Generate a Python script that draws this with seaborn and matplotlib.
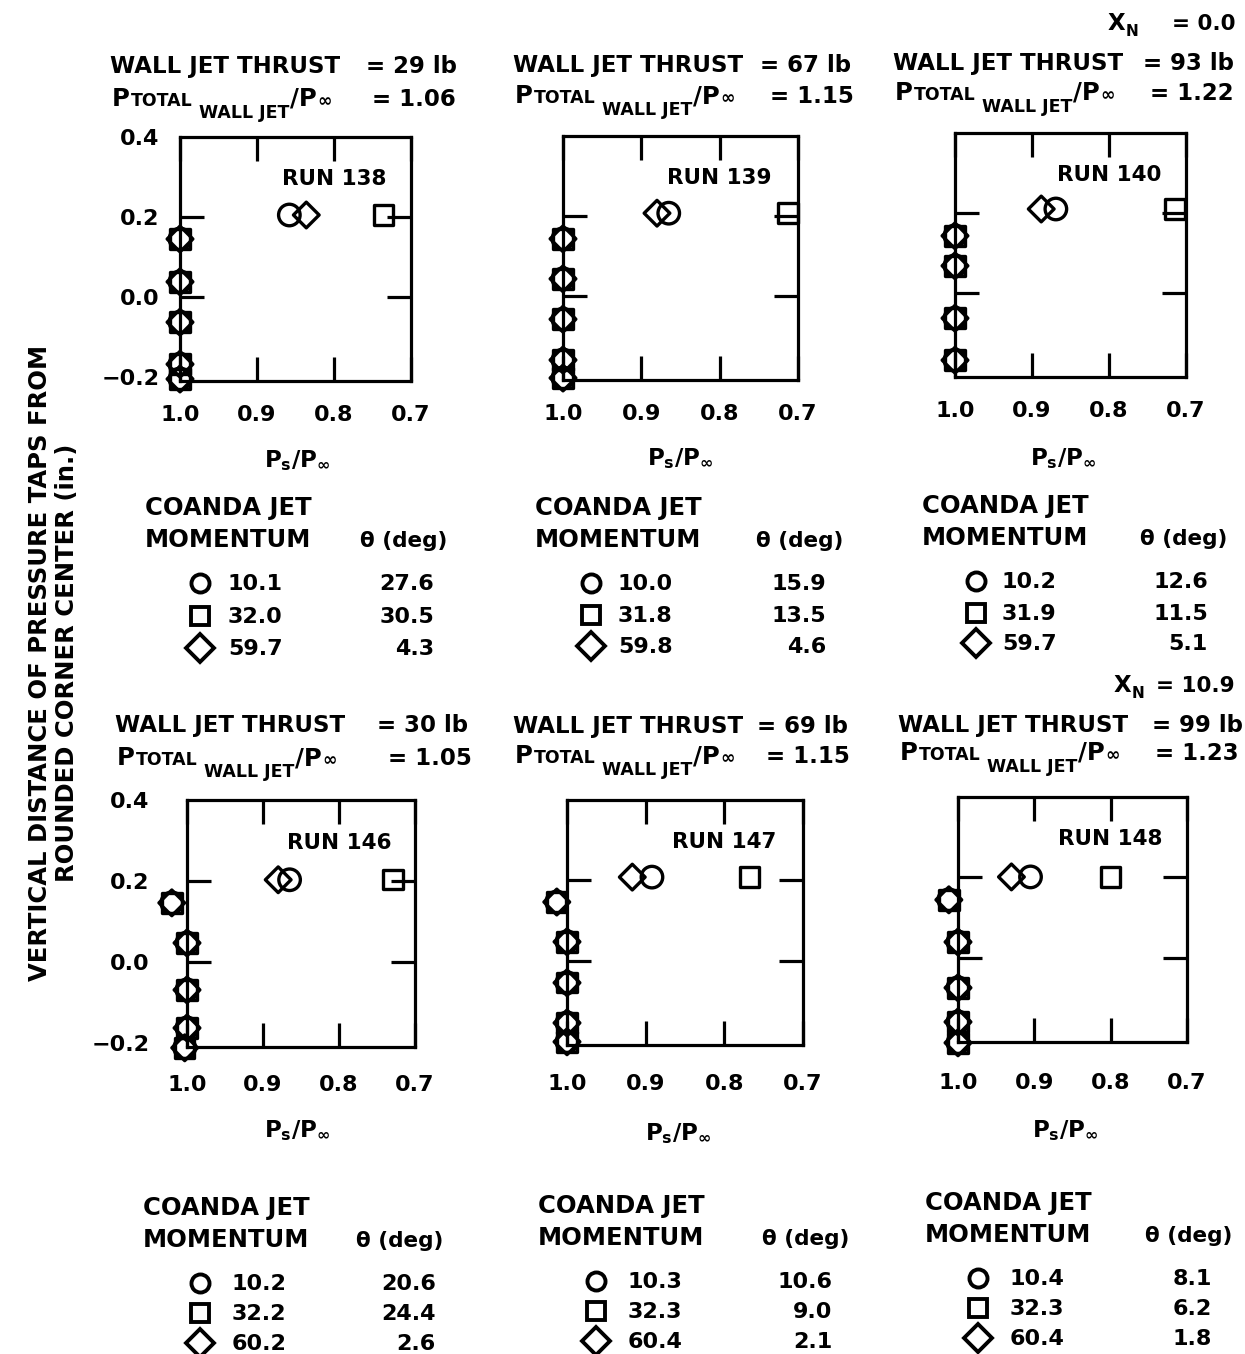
import numpy as np
import pandas as pd
import matplotlib
matplotlib.use("Agg")
import matplotlib.pyplot as plt
import matplotlib.lines as mlines
import seaborn as sns

W, H = 1245, 1354

# ---------------------------------------------------------------- data
run_ids = [138, 139, 140, 146, 147, 148]
wall_jet_thrust = [29, 67, 93, 30, 69, 99]
total_pressure_ratio = [1.06, 1.15, 1.22, 1.05, 1.15, 1.23]
nozzle_station = [0.0, 10.9]

coanda_momentum = [
    [10.1, 32.0, 59.7],
    [10.0, 31.8, 59.8],
    [10.2, 31.9, 59.7],
    [10.2, 32.2, 60.2],
    [10.3, 32.3, 60.4],
    [10.4, 32.3, 60.4],
]
theta_deg = [
    [27.6, 30.5, 4.3],
    [15.9, 13.5, 4.6],
    [12.6, 11.5, 5.1],
    [20.6, 24.4, 2.6],
    [10.6, 9.0, 2.1],
    [8.1, 6.2, 1.8],
]

# vertical distance of each pressure tap (in.), top tap first
tap_height = [
    [0.205, 0.145, 0.038, -0.063, -0.168, -0.205],
    [0.207, 0.143, 0.043, -0.058, -0.160, -0.205],
    [0.210, 0.143, 0.068, -0.063, -0.168],
    [0.203, 0.146, 0.047, -0.069, -0.163, -0.212],
    [0.208, 0.146, 0.047, -0.055, -0.155, -0.202],
    [0.201, 0.144, 0.039, -0.075, -0.160, -0.212],
]
# Ps/Pinf at each tap for the low, mid and high Coanda momentum settings
ps_low = [
    [0.858, 1.0, 1.0, 1.0, 1.0, 1.0],
    [0.865, 1.0, 1.0, 1.0, 1.0, 1.0],
    [0.869, 1.0, 1.0, 1.0, 1.0],
    [0.865, 1.020, 1.0, 1.0, 1.0, 1.003],
    [0.892, 1.013, 1.0, 1.0, 1.0, 1.0],
    [0.905, 1.012, 1.0, 1.0, 1.0, 1.0],
]
ps_mid = [
    [0.736, 1.0, 1.0, 1.0, 1.0, 1.0],
    [0.713, 1.0, 1.0, 1.0, 1.0, 1.0],
    [0.714, 1.0, 1.0, 1.0, 1.0],
    [0.729, 1.020, 1.0, 1.0, 1.0, 1.003],
    [0.768, 1.013, 1.0, 1.0, 1.0, 1.0],
    [0.800, 1.012, 1.0, 1.0, 1.0, 1.0],
]
ps_high = [
    [0.836, 1.0, 1.0, 1.0, 1.0, 1.0],
    [0.880, 1.0, 1.0, 1.0, 1.0, 1.0],
    [0.888, 1.0, 1.0, 1.0, 1.0],
    [0.880, 1.020, 1.0, 1.0, 1.0, 1.003],
    [0.917, 1.013, 1.0, 1.0, 1.0, 1.0],
    [0.930, 1.012, 1.0, 1.0, 1.0, 1.0],
]

x_ticks = [1.0, 0.9, 0.8, 0.7]
y_ticks = [0.4, 0.2, 0.0, -0.2]

# ---------------------------------------------------------------- layout (pixels)
axes_px = [  # left, top, right, bottom
    (180, 137, 411, 381),
    (563, 136, 798, 380),
    (955, 133, 1186, 377),
    (187, 800, 415, 1047),
    (567, 800, 803, 1045),
    (958, 797, 1187, 1042),
]
xlabel_px = [(297, 448), (680, 446), (1063, 446), (297, 1118), (678, 1121), (1065, 1118)]
xtick_pad = [17, 17, 17, 20, 21, 22]
ytick_pad = [15, 15, 15, 27, 27, 27]

# header: (left x, baseline line1, eq x line1, baseline line2, eq x line2)
header_px = [
    (110, 73, 366, 106, 372),
    (513, 72, 760, 103, 770),
    (893, 70, 1143, 100, 1150),
    (115, 732, 377, 765, 388),
    (513, 733, 757, 763, 766),
    (898, 732, 1152, 760, 1155),
]
# X_N label: (x, baseline, eq x)
station_px = [(1108, 30, 1172), (1114, 692, 1156)]

# legend blocks: (left, title baseline, theta-head x, row baselines, marker x, value x, theta right)
legend_px = [
    (145, 515, 360, (590, 623, 655), 200, 228, 434),
    (535, 515, 756, (590, 622, 653), 591, 618, 826),
    (922, 513, 1140, (588, 620, 650), 976, 1002, 1208),
    (143, 1215, 356, (1290, 1320, 1350), 200, 232, 436),
    (538, 1213, 762, (1288, 1318, 1348), 596, 628, 832),
    (925, 1210, 1145, (1285, 1315, 1345), 978, 1010, 1212),
]

# ---------------------------------------------------------------- style
sns.set_style("white")
plt.rcParams["font.family"] = ["DejaVu Sans"]
plt.rcParams["font.weight"] = "bold"
plt.rcParams["mathtext.fontset"] = "dejavusans"
plt.rcParams["mathtext.default"] = "bf"
for key in ["text.color", "axes.labelcolor", "xtick.color", "ytick.color", "axes.edgecolor"]:
    plt.rcParams[key] = "black"

fig = plt.figure(figsize=(W / 100, H / 100), dpi=100)
fig.patch.set_facecolor("white")
renderer = fig.canvas.get_renderer()

LW = 2.3


def fx(px):
    return px / W


def fy(py):
    return 1 - py / H


def chain(x, y, pieces):
    """Write pieces (text, size, dy_px, gap_px) one after another on a baseline."""
    for txt, size, dy, gap in pieces:
        t = fig.text(fx(x), fy(y + dy), txt, fontsize=size, fontweight="bold",
                     ha="left", va="baseline", color="black")
        x += t.get_window_extent(renderer=renderer).width + gap
    return x


marker_specs = [  # series, marker, scatter size
    ("low", "o", 15.5 ** 2),
    ("mid", "s", 14 ** 2),
    ("high", (4, 0, 0), 18.5 ** 2),
]
series_values = {"low": ps_low, "mid": ps_mid, "high": ps_high}

for i, (l, t, r, b) in enumerate(axes_px):
    ax = fig.add_axes([fx(l), fy(b), (r - l) / W, (b - t) / H])
    ax.set_facecolor("white")

    for key, mk, s in marker_specs:
        sns.scatterplot(x=series_values[key][i], y=tap_height[i], ax=ax,
                        marker=mk, s=s, facecolor="none", edgecolor="black",
                        linewidth=2.4, clip_on=False, zorder=4, legend=False)

    ax.set_xlim(1.0, 0.7)
    ax.set_ylim(-0.21, 0.40)
    ax.set_xticks(x_ticks)
    ax.set_xticklabels([f"{v:.1f}" for v in x_ticks])
    ax.set_yticks(y_ticks)
    ax.set_yticklabels([f"{v:.1f}".replace("-", "\u2212") for v in y_ticks])
    ax.tick_params(axis="both", direction="in", length=17, width=LW,
                   bottom=True, left=True, top=True, right=True,
                   labelsize=16, colors="black")
    ax.tick_params(axis="x", pad=xtick_pad[i])
    ax.tick_params(axis="y", pad=ytick_pad[i], labelleft=(i % 3 == 0))
    for loc, tk in zip(ax.yaxis.get_majorticklocs(), ax.yaxis.get_major_ticks()):
        if loc > 0.3 or loc < -0.1:
            tk.tick1line.set_visible(False)
            tk.tick2line.set_visible(False)
    for sp in ax.spines.values():
        sp.set_linewidth(LW)
        sp.set_color("black")

    ax.set_ylabel("")
    ax.set_xlabel(r"$P_s/P_\infty$", fontsize=16.5)
    cx, ctop = xlabel_px[i]
    ax.xaxis.set_label_coords((cx - l) / (r - l), -(ctop - b) / (b - t))

    ax.text(0.80, 0.295, f"RUN {run_ids[i]}", ha="center", va="center",
            fontsize=15.5, fontweight="bold")

    # header above each panel
    x0, b1, e1, b2, e2 = header_px[i]
    fig.text(fx(x0), fy(b1), "WALL JET THRUST", fontsize=16.5, fontweight="bold",
             ha="left", va="baseline")
    fig.text(fx(e1), fy(b1), f"= {wall_jet_thrust[i]} lb", fontsize=16.5,
             fontweight="bold", ha="left", va="baseline")
    chain(x0 + 2, b2, [("P", 17.5, 0, 1), ("TOTAL", 12.5, 0, 6),
                       ("WALL JET", 12.5, 12, 1), ("/P", 17.5, 0, 1), ("\u221e", 12.5, 0, 0)])
    fig.text(fx(e2), fy(b2), f"= {total_pressure_ratio[i]:.2f}", fontsize=16.5,
             fontweight="bold", ha="left", va="baseline")

    # momentum / flap-angle table below each panel
    lx, tb, thx, rows, mx, vx, thr = legend_px[i]
    fig.text(fx(lx), fy(tb), "COANDA JET", fontsize=17.5, fontweight="bold",
             ha="left", va="baseline")
    fig.text(fx(lx), fy(tb + 32), "MOMENTUM", fontsize=17.5, fontweight="bold",
             ha="left", va="baseline")
    fig.text(fx(thx), fy(tb + 32), "\u03b8 (deg)", fontsize=15.5, fontweight="bold",
             ha="left", va="baseline")
    leg_markers = [("o", 13), ("s", 12.5), ("D", 14)]
    for k, rb in enumerate(rows):
        mk, ms = leg_markers[k]
        fig.add_artist(mlines.Line2D([fx(mx)], [fy(rb - 7)], transform=fig.transFigure,
                                    marker=mk, ms=ms, mfc="none", mec="black",
                                    mew=2.8, ls="none"))
        fig.text(fx(vx), fy(rb), f"{coanda_momentum[i][k]:.1f}", fontsize=16,
                 fontweight="bold", ha="left", va="baseline")
        fig.text(fx(thr), fy(rb), f"{theta_deg[i][k]:.1f}", fontsize=16,
                 fontweight="bold", ha="right", va="baseline")

# nozzle station labels
for (sx, sb, se), xn in zip(station_px, nozzle_station):
    chain(sx, sb, [("X", 16.5, 0, 0), ("N", 11, 6, 0)])
    fig.text(fx(se), fy(sb), f"= {xn:.1f}", fontsize=15.5, fontweight="bold",
             ha="left", va="baseline")

# shared vertical axis title
fig.text(fx(40), fy(663), "VERTICAL DISTANCE OF PRESSURE TAPS FROM", rotation=90,
         fontsize=17.5, fontweight="bold", ha="center", va="center")
fig.text(fx(67), fy(663), "ROUNDED CORNER CENTER (in.)", rotation=90,
         fontsize=17.5, fontweight="bold", ha="center", va="center")

fig.savefig("out.png", dpi=100, facecolor="white")
